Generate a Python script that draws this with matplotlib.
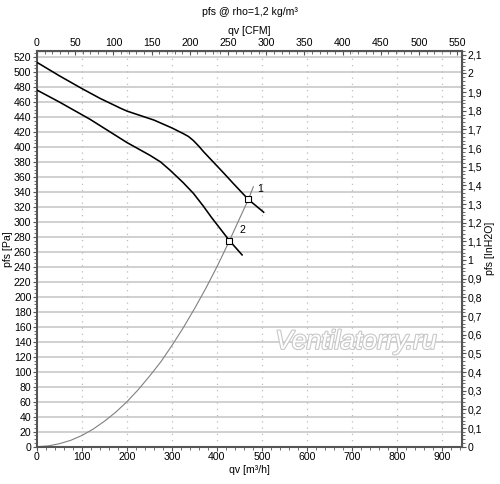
import numpy as np
import matplotlib
matplotlib.use('Agg')
import matplotlib.pyplot as plt
from matplotlib.ticker import MultipleLocator, FuncFormatter
import matplotlib.patheffects as pe

plt.rcParams['font.family'] = ['Liberation Sans', 'DejaVu Sans']

# fan curve 1 (upper)
qv_1 = [0, 50, 100, 140, 185, 200, 260, 300, 325, 337, 348, 360, 370, 392, 414,
        437, 470, 504]
pfs_1 = [513, 495, 478, 465, 452, 448, 436, 425.5, 418, 414, 408.5, 401, 394, 380,
         366, 351, 330, 313]

# fan curve 2 (lower)
qv_2 = [0, 50, 118, 155, 200, 251, 275, 296, 325, 348, 370, 388, 428, 456]
pfs_2 = [476, 460, 437, 423, 406, 389, 380, 369, 352.5, 338, 321, 306, 275, 256]

# system curve
qv_sys = [0, 25, 50, 75, 100, 125, 150, 175, 200, 225, 250, 275, 300, 325, 350, 375,
          400, 428, 450, 470, 481]
pfs_sys = [0, 1, 4, 8.5, 15, 23.5, 34, 46, 60, 76, 94, 113, 135, 158.5, 184, 211,
           240, 275, 304, 330, 347]

# operating points
op_qv = [470, 428]
op_pfs = [330, 275]
op_labels = ['1', '2']

# axis ticks
cfm_ticks = [0, 50, 100, 150, 200, 250, 300, 350, 400, 450, 500, 550]
inh2o_ticks = [0, 0.1, 0.2, 0.3, 0.4, 0.5, 0.6, 0.7, 0.8, 0.9, 1, 1.1, 1.2, 1.3,
               1.4, 1.5, 1.6, 1.7, 1.8, 1.9, 2, 2.1]

PA_PER_INH2O = 249.09
M3H_PER_CFM = 1.699
FS = 7.6


def comma_fmt(v, pos):
    v = round(v, 2)
    s = '{:g}'.format(v)
    return s.replace('.', ',')


def style_ticks(a, direction='out'):
    a.tick_params(which='both', direction=direction, colors='#555555',
                  labelcolor='black', labelsize=FS, pad=1)
    a.tick_params(which='major', length=3, width=0.8)
    a.tick_params(which='minor', length=2, width=0.6)


fig = plt.figure(figsize=(5, 4.84), dpi=100)
ax = fig.add_axes([0.074, 0.0771, 0.85, 0.818])

ax.set_xlim(0, 945)
ax.set_ylim(0, 528.5)

# grid
for y in np.arange(20, 521, 20):
    ax.axhline(y, color='#c8c8c8', lw=1.2, zorder=1)
for x in np.arange(100, 901, 100):
    ax.axvline(x, color='#bdbdbd', lw=0.9, ls=(0, (1, 4)), zorder=1)

ax.plot(qv_sys, pfs_sys, color='#808080', lw=0.8, zorder=2)
ax.plot(qv_1, pfs_1, color='black', lw=1.15, zorder=3)
ax.plot(qv_2, pfs_2, color='black', lw=1.15, zorder=3)
ax.plot(op_qv, op_pfs, ls='none', marker='s', ms=4.2, mfc='white', mec='black',
        mew=0.8, zorder=4)
ax.text(op_qv[0] + 20, op_pfs[0] + 10, op_labels[0], fontsize=FS, zorder=5)
ax.text(op_qv[1] + 22, op_pfs[1] + 10, op_labels[1], fontsize=FS, zorder=5)

ax.text(709, 140, 'Ventilatorry.ru', fontsize=19, style='italic', color='white',
        ha='center', va='center', zorder=2,
        path_effects=[pe.withStroke(linewidth=1.6, foreground='#c8c8c8')])

ax.xaxis.set_major_locator(MultipleLocator(100))
ax.xaxis.set_minor_locator(MultipleLocator(20))
ax.yaxis.set_major_locator(MultipleLocator(20))
ax.yaxis.set_minor_locator(MultipleLocator(5))

for s in ax.spines.values():
    s.set_color('#555555')
    s.set_linewidth(1.5)

style_ticks(ax)

top = ax.secondary_xaxis('top', functions=(lambda q: q / M3H_PER_CFM,
                                           lambda c: c * M3H_PER_CFM))
top.set_xticks(cfm_ticks)
top.xaxis.set_minor_locator(MultipleLocator(10))
style_ticks(top, 'in')
top.tick_params(which='major', pad=2)
top.set_xlabel('qv [CFM]', fontsize=FS, labelpad=3)

right = ax.secondary_yaxis('right', functions=(lambda p: p / PA_PER_INH2O,
                                               lambda h: h * PA_PER_INH2O))
right.set_yticks(inh2o_ticks)
right.yaxis.set_minor_locator(MultipleLocator(0.02))
right.yaxis.set_major_formatter(FuncFormatter(comma_fmt))
style_ticks(right)
right.set_ylabel('pfs [InH2O]', fontsize=FS, labelpad=2)

ax.set_xlabel('qv [m³/h]', fontsize=FS, labelpad=2)
ax.set_ylabel('pfs [Pa]', fontsize=FS)
ax.yaxis.set_label_coords(-0.0565, 0.5)

fig.text(0.499, 1 - 12 / 484, 'pfs @ rho=1,2 kg/m³', fontsize=FS, ha='center',
         va='center')

fig.savefig('out.png', dpi=100)
